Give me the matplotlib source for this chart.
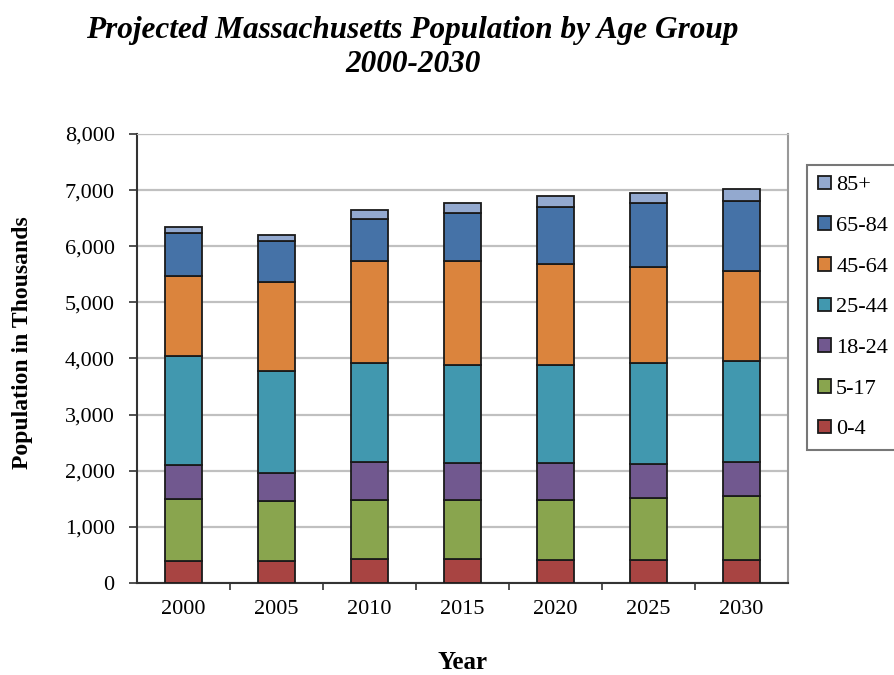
import numpy as np
import matplotlib.pyplot as plt

years = ["2000", "2005", "2010", "2015", "2020", "2025", "2030"]
groups = ["0-4", "5-17", "18-24", "25-44", "45-64", "65-84", "85+"]

# population in thousands, by age group (bottom to top)
age_0_4 = [397, 390, 428, 420, 416, 416, 416]
age_5_17 = [1100, 1066, 1057, 1065, 1069, 1100, 1129]
age_18_24 = [600, 505, 672, 655, 655, 612, 612]
age_25_44 = [1950, 1812, 1765, 1752, 1752, 1795, 1794]
age_45_64 = [1420, 1592, 1812, 1842, 1800, 1705, 1605]
age_65_84 = [760, 725, 754, 860, 1010, 1147, 1247]
age_85_up = [116, 119, 165, 185, 190, 178, 220]

series = [age_0_4, age_5_17, age_18_24, age_25_44, age_45_64, age_65_84, age_85_up]
colors = ["#A84442", "#89A54E", "#71588F", "#4198AF", "#DB843D", "#4572A7", "#93A9CF"]

plt.rcParams["font.family"] = ["Liberation Serif", "DejaVu Serif"]

fig = plt.figure(figsize=(8.95, 6.75), dpi=100)
ax = fig.add_axes([0.153, 0.1363, 0.727, 0.6652])

x = np.arange(len(years))
bottom = np.zeros(len(years))
handles = []
for vals, col, name in zip(series, colors, groups):
    b = ax.bar(x, vals, width=0.4, bottom=bottom, color=col,
               edgecolor="#1a1a1a", linewidth=1.3, label=name, zorder=3)
    handles.append(b)
    bottom += np.array(vals)

ax.set_xlim(-0.5, len(years) - 0.5)
ax.set_ylim(0, 8000)
ax.set_yticks(np.arange(0, 8001, 1000))
ax.set_yticklabels([f"{v:,}" for v in range(0, 8001, 1000)])
ax.set_xticks(x)
ax.set_xticklabels(years)
ax.set_xticks(np.arange(0.5, len(years) - 1, 1), minor=True)
ax.tick_params(axis="x", which="major", length=0, pad=12, labelsize=16)
ax.tick_params(axis="x", which="minor", length=5, width=1.2, color="#333333")
ax.tick_params(axis="y", length=6, width=1.2, color="#333333", labelsize=16, pad=10)

ax.grid(axis="y", color="#c0c0c0", linewidth=1.6, zorder=0)
ax.spines["left"].set_color("#333333")
ax.spines["bottom"].set_color("#333333")
ax.spines["left"].set_linewidth(1.5)
ax.spines["bottom"].set_linewidth(1.5)
ax.spines["top"].set_color("#c0c0c0")
ax.spines["right"].set_color("#999999")
ax.spines["right"].set_linewidth(1.5)

ax.set_ylabel("Population in Thousands", fontsize=17, fontweight="bold")
ax.yaxis.set_label_coords(-0.16, 0.535)
ax.set_xlabel("Year", fontsize=18, fontweight="bold")
ax.xaxis.set_label_coords(0.5, -0.152)

fig.text(0.461, 0.955, "Projected Massachusetts Population by Age Group",
         ha="center", va="center", fontsize=22.5, fontweight="bold", style="italic")
fig.text(0.461, 0.905, "2000-2030", ha="center", va="center",
         fontsize=22.5, fontweight="bold", style="italic")

leg = fig.legend(handles[::-1], groups[::-1], loc="upper left",
                 bbox_to_anchor=(0.902, 0.756), fontsize=16, frameon=True,
                 fancybox=False, edgecolor="#555555", handlelength=0.55,
                 handleheight=0.55, handletextpad=0.25, labelspacing=0.95,
                 borderpad=0.5, borderaxespad=0)
leg.get_frame().set_linewidth(1.5)

fig.savefig("out.png", dpi=100)
